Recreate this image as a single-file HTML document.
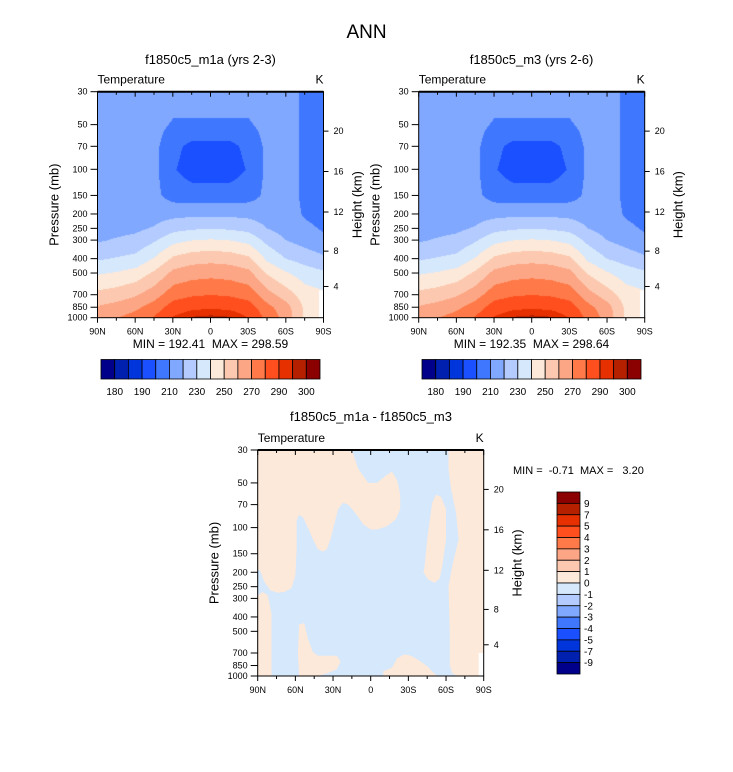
<!DOCTYPE html>
<html><head><meta charset="utf-8">
<style>
html,body{margin:0;padding:0;background:#fff;}
#wrap{position:relative;width:733px;height:772px;overflow:hidden;font-family:"Liberation Sans",sans-serif;}
canvas{position:absolute;}
svg{position:absolute;left:0;top:0;}
svg text{white-space:pre;}
</style></head>
<body>
<div id="wrap">
<canvas id="cA" width="226" height="226" style="left:97.5px;top:91.7px"></canvas>
<canvas id="cB" width="226" height="226" style="left:418.7px;top:91.7px"></canvas>
<svg id="s" width="733" height="772" xmlns="http://www.w3.org/2000/svg"></svg>
</div>
<script>
// ---- data ----
const lats = [90,75,60,45,30,15,0,-15,-30,-45,-60,-75,-90];
const plevs = [30,50,70,100,150,200,250,300,400,500,700,850,1000];
const tempA = [
 [214,214,214,214,214,215,216,219,229,239,253,261,265],
 [214,214,214,214,214,215,217,221,231,241,255,264,270],
 [214,214,214,214,214,216,218,223,233,244,259,268,274],
 [214,213,212.5,212.5,212.5,216,221,229,241,252,266,275,281],
 [214,209,203,201,206,217,227,237,252,263,276,285,291],
 [214,209,197,195,205,218,229,240,256,266,279,288,296],
 [214,209,197,195,205,218,230,241,257,267,280,289,297],
 [214,209,197,195,205,218,229,240,256,266,279,288,296],
 [214,209,203,201,206,217,227,237,252,263,276,285,290],
 [214,213,212.5,212.5,212.5,215,220,227,238,249,264,273,277],
 [214,214,214,214,214,214,216,220,230,241,255,264,266],
 [208,208,208,208,208,209,212,216,226,235,245,248,248],
 [206,206,206,206,206,207,209,212,222,232,242,243,243]
];
const tempB = tempA.map(r => r.slice());
const levels = [180,185,190,200,210,220,230,240,250,260,270,280,290,295,300];
const colors = ["#00008b","#0020b0","#0035dc","#1a50ff","#4077ff","#80a8ff","#b3cbff","#d6e8fc","#fde9d9","#fcc9b0","#fca685","#ff7a48","#ff4f1f","#e63000","#b42000","#8b0000"];
const cbLabelsTop = ["180","","190","","210","","230","","250","","270","","290","","300"];
const cbLabelsDiff = ["9","7","5","4","3","2","1","0","-1","-2","-3","-4","-5","-7","-9"];
const latTicks = [90,60,30,0,-30,-60,-90];
const latTickLabels = ["90N","60N","30N","0","30S","60S","90S"];
const pTicks = [30,50,70,100,150,200,250,300,400,500,700,850,1000];
const hTicks = [4,8,12,16,20];
const hTickP = [616,356,194,103.5,55.3];
// difference field: positive (0..1) regions as polygons of [lat, p]
const diffPos1 = [[90,30],[15,30],[10,40],[2,50],[-5,50],[-13,44],[-17,42],[-21,48],[-23.5,60],[-23.5,75],[-20,88],[-13,98],[-5,103],[0,103],[6,95],[12,80],[18,70],[22,68],[26,75],[29,95],[32,120],[35,140],[38,145],[42,140],[46,120],[50,100],[54,85],[57,82],[59,90],[59,140],[60,210],[63,255],[68,270],[74,275],[80,265],[85,230],[88,195],[90,190]];
const diffPos2 = [[90,285],[86,272],[82,285],[79,380],[79,1000],[90,1000]];
const diffPos3 = [[57,1000],[58,700],[57,450],[53,440],[50,560],[46,690],[42,730],[35,730],[27,730],[24,800],[27,900],[35,960],[42,1000]];
const diffPos4 = [[-10,1000],[-10,930],[-17,880],[-21,760],[-27,715],[-32,730],[-38,780],[-45,860],[-50,950],[-53,1000]];
const diffPos5 = [[-42,200],[-43,180],[-45,120],[-49,68],[-52,60],[-56,62],[-60,75],[-60,120],[-57,180],[-55,220],[-51,235],[-46,225]];
const diffPos6 = [[-62,30],[-90,30],[-90,1000],[-69,1000],[-65,960],[-63,850],[-63,500],[-62,250],[-65,180],[-70,120],[-68,80],[-64,55],[-62,40]];
const diffMissing = [[-86,700],[-90,700],[-90,1000],[-86,1000]];

// ---- helpers ----
const W = 226, H = 226;
function xS(lat, x0){ return x0 + (90 - lat) / 180 * W; }
function yS(p, y0){ return y0 + Math.log(p / 30) / Math.log(1000 / 30) * H; }
const NS = "http://www.w3.org/2000/svg";
const svg = document.getElementById('s');
function el(tag, attrs, parent){
  const e = document.createElementNS(NS, tag);
  for (const k in attrs) e.setAttribute(k, attrs[k]);
  (parent || svg).appendChild(e);
  return e;
}
function txt(x, y, s, size, anchor, parent, extra){
  const t = el('text', Object.assign({x:x, y:y, 'font-size':size, 'text-anchor':anchor||'middle', fill:'#000', 'font-family':'Liberation Sans, sans-serif'}, extra||{}), parent);
  t.textContent = s;
  return t;
}
function hexRgb(h){ return [parseInt(h.substr(1,2),16),parseInt(h.substr(3,2),16),parseInt(h.substr(5,2),16)]; }
const lnp = plevs.map(p => Math.log(p));
function interp(grid, lat, lp){
  let i = 0; while (i < lats.length - 2 && lat < lats[i+1]) i++;
  let j = 0; while (j < lnp.length - 2 && lp > lnp[j+1]) j++;
  const fx = (lats[i] - lat) / (lats[i] - lats[i+1]);
  const fy = (lp - lnp[j]) / (lnp[j+1] - lnp[j]);
  const a = grid[i][j], b = grid[i+1][j], c = grid[i][j+1], d = grid[i+1][j+1];
  return a*(1-fx)*(1-fy) + b*fx*(1-fy) + c*(1-fx)*fy + d*fx*fy;
}
function levelIndex(v){ let k = 0; while (k < levels.length && v >= levels[k]) k++; return k; }
function drawField(id, grid){
  const cv = document.getElementById(id), ctx = cv.getContext('2d');
  const img = ctx.createImageData(W, H);
  const rgb = colors.map(hexRgb);
  for (let py = 0; py < H; py++){
    const lp = Math.log(30) + (py + 0.5) / H * Math.log(1000/30);
    for (let px = 0; px < W; px++){
      const lat = 90 - (px + 0.5) / W * 180;
      const v = interp(grid, lat, lp);
      const c = rgb[levelIndex(v)];
      const o = (py * W + px) * 4;
      img.data[o]=c[0]; img.data[o+1]=c[1]; img.data[o+2]=c[2]; img.data[o+3]=255;
    }
  }
  ctx.putImageData(img, 0, 0);
  ctx.fillStyle = '#fff';
  const y7 = yS(650, 0), xm = xS(-86, 0);
  ctx.fillRect(xm, y7, W - xm, H - y7);
}

function axes(x0, y0, g){
  const fr = el('rect', {x:x0, y:y0, width:W, height:H, fill:'none', stroke:'#000', 'stroke-width':1}, g);
  
  
  el('line', {x1:x0, y1:y0, x2:x0+W, y2:y0, stroke:'#000', 'stroke-width':2}, g);
  for (let lat = 90; lat >= -90; lat -= 15){
    const x = xS(lat, x0), major = lat % 30 === 0;
    el('line', {x1:x, y1:y0+H, x2:x, y2:y0+H+(major?5:3), stroke:'#000', 'stroke-width':1}, g);
    el('line', {x1:x, y1:y0, x2:x, y2:y0+(major?5:3), stroke:'#000', 'stroke-width':1}, g);
  }
  latTicks.forEach((lat, k) => {
    const t = txt(xS(lat, x0), y0+H+17, latTickLabels[k], 9, 'middle', g);
    
    
  });
  pTicks.forEach(p => {
    const y = yS(p, y0);
    el('line', {x1:x0-7, y1:y, x2:x0, y2:y, stroke:'#000', 'stroke-width':1}, g);
    const t = txt(x0-10, y+3, String(p), 9, 'end', g);
    
    
  });
  hTicks.forEach((h, k) => {
    const y = yS(hTickP[k], y0);
    el('line', {x1:x0+W, y1:y, x2:x0+W+5, y2:y, stroke:'#000', 'stroke-width':1}, g);
    const t = txt(x0+W+10, y+3, String(h), 9, 'start', g);
    
    
  });
  const yl = txt(0, 0, 'Pressure (mb)', 13, 'middle', g, {transform:'translate('+(x0-39)+','+(y0+H/2)+') rotate(-90)'});
  
  
  const yr = txt(0, 0, 'Height (km)', 13, 'middle', g, {transform:'translate('+(x0+W+38)+','+(y0+H/2)+') rotate(-90)'});
  
  
  const tl = txt(x0, y0-8, 'Temperature', 12, 'start', g);
  
  
  const kl = txt(x0+W, y0-8, 'K', 12, 'end', g);
  
  
}

function hColorbar(x0, x1, y0, y1, g){
  const n = colors.length, w = (x1 - x0) / n;
  colors.forEach((c, k) => {
    const r = el('rect', {x:x0+k*w, y:y0, width:w, height:y1-y0, fill:c, stroke:'#000', 'stroke-width':0.8}, g);
    
    
  });
  cbLabelsTop.forEach((s, k) => {
    if (!s) return;
    const t = txt(x0+(k+1)*w, y1+16, s, 10, 'middle', g);
    
    
  });
}

// ---- title ----
const title = txt(366.5, 38, 'ANN', 19, 'middle');



// ---- top panels ----
drawField('cA', tempA);
drawField('cB', tempB);
const gA = el('g', {});


axes(97.5, 91.7, gA);
const stA = txt(210.5, 64, 'f1850c5_m1a (yrs 2-3)', 13, 'middle', gA);


const mmA = txt(210.5, 348, 'MIN = 192.41  MAX = 298.59', 12, 'middle', gA);


hColorbar(101, 320, 359.5, 379, gA);

const gB = el('g', {});


axes(418.7, 91.7, gB);
const stB = txt(531.5, 64, 'f1850c5_m3 (yrs 2-6)', 13, 'middle', gB);


const mmB = txt(531.5, 348, 'MIN = 192.35  MAX = 298.64', 12, 'middle', gB);


hColorbar(422, 641, 359.5, 379, gB);

// ---- difference panel ----
const dx0 = 257.7, dy0 = 450;
const gD = el('g', {});


const bg = el('rect', {x:dx0, y:dy0, width:W, height:H, fill:'#d6e8fc'}, gD);


[diffPos1, diffPos2, diffPos3, diffPos4, diffPos5, diffPos6].forEach(poly => {
  const pts = poly.map(q => xS(q[0], dx0).toFixed(1) + ',' + yS(q[1], dy0).toFixed(1)).join(' ');
  const pg = el('polygon', {points:pts, fill:'#fde9d9', stroke:'none'}, gD);
  
  
});
const mpts = diffMissing.map(q => xS(q[0], dx0).toFixed(1) + ',' + yS(q[1], dy0).toFixed(1)).join(' ');
el('polygon', {points:mpts, fill:'#fff'}, gD);
axes(dx0, dy0, gD);
const stD = txt(371, 421, 'f1850c5_m1a - f1850c5_m3', 13, 'middle', gD);


const mmD = txt(513, 474, 'MIN =  -0.71  MAX =   3.20', 11, 'start', gD);


const vx0 = 557, vx1 = 580, vy0 = 492, vy1 = 674, vh = (vy1 - vy0) / colors.length;
colors.slice().reverse().forEach((c, k) => {
  const r = el('rect', {x:vx0, y:vy0+k*vh, width:vx1-vx0, height:vh, fill:c, stroke:'#000', 'stroke-width':0.8}, gD);
  
  
});
cbLabelsDiff.forEach((s, k) => {
  const t = txt(vx1+4, vy0+(k+1)*vh+3.5, s, 10, 'start', gD);
  
  
});
</script>
</body></html>
